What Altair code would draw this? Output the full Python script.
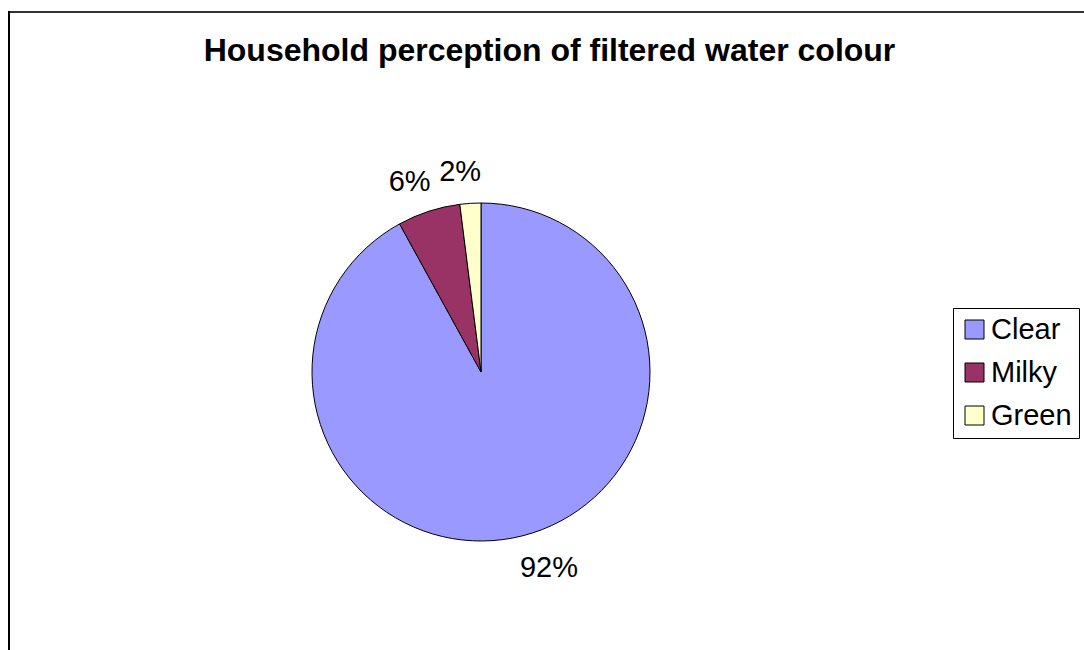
import altair as alt
import pandas as pd

categories = ["Clear", "Milky", "Green"]
values = [92, 6, 2]
labels = ["92%", "6%", "2%"]
colors = ["#9999FF", "#993366", "#FFFFCC"]

df = pd.DataFrame({"cat": categories, "value": values, "label": labels,
                   "idx": list(range(len(categories)))})

FONT = "Liberation Sans"
W, H = 1075, 638
CX, CY = 472, 360

pie = alt.Chart(df).mark_arc(radius=169, stroke="black", strokeWidth=1).encode(
    theta=alt.Theta("value:Q", stack=True),
    order=alt.Order("idx:Q"),
    x=alt.value(CX), y=alt.value(CY),
    color=alt.Color("cat:N", scale=alt.Scale(domain=categories, range=colors),
                    legend=alt.Legend(title=None, orient="none", legendX=944, legendY=296)),
)

lab = alt.Chart(df).transform_joinaggregate(
    total="sum(value)"
).transform_window(
    cum="sum(value)", sort=[alt.SortField("idx")], frame=[None, 0]
).transform_calculate(
    mid="(datum.cum - datum.value / 2) / datum.total * 2 * PI"
).encode(
    theta=alt.Theta("mid:Q", scale=None),
    x=alt.value(CX), y=alt.value(CY), text="label:N",
)

txt_big = lab.mark_text(radius=205, fontSize=29, font=FONT, color="black", dx=17, dy=-3).transform_filter(
    alt.datum.cat == "Clear")
txt_small = lab.mark_text(radius=205, fontSize=29, font=FONT, color="black", dx=-8, dy=5).transform_filter(
    alt.datum.cat != "Clear")

frame_top = alt.Chart(df).mark_rule(color="#333333", strokeWidth=2).encode(
    x=alt.value(-1), x2=alt.value(W), y=alt.value(0))
frame_left = alt.Chart(df).mark_rule(color="black", strokeWidth=2).encode(
    x=alt.value(0), y=alt.value(-1), y2=alt.value(H))

chart = alt.layer(frame_top, frame_left, pie, txt_big, txt_small).properties(
    width=W, height=H,
    padding={"left": 9, "top": 12, "right": 0, "bottom": 0},
    autosize=alt.AutoSizeParams(type="none"),
    background="white",
    title=alt.TitleParams("Household perception of filtered water colour",
                          font=FONT, fontSize=32, fontWeight="bold", color="black",
                          anchor="middle", baseline="alphabetic", offset=-83, dx=3),
).configure_view(
    stroke=None
).configure_legend(
    strokeColor="black", strokeWidth=1, padding=7,
    symbolType="square", symbolSize=361, symbolStrokeColor="black", symbolStrokeWidth=1,
    labelFont=FONT, labelFontSize=29, labelColor="black", labelOffset=2,
    rowPadding=13, fillColor="white",
)

chart.save("out.html", embed_options={"renderer": "svg", "actions": False})
